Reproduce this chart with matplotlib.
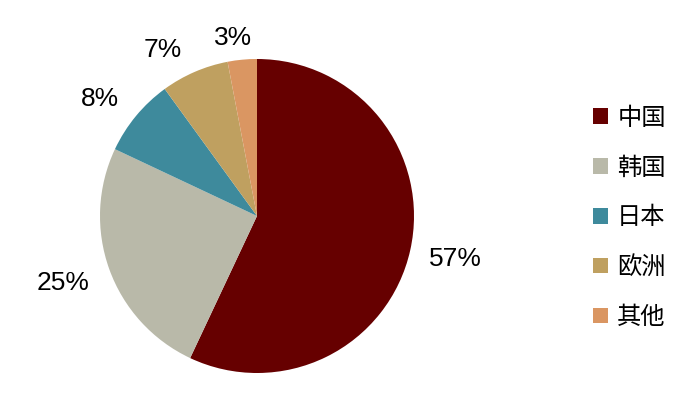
import numpy as np
import matplotlib.pyplot as plt
from matplotlib.patches import Patch

plt.rcParams['font.family'] = ['Liberation Sans', 'Noto Sans CJK SC', 'DejaVu Sans']

regions = ['中国', '韩国', '日本', '欧洲', '其他']
shares = [57, 25, 8, 7, 3]
colors = ['#660000', '#B9B9A9', '#3E8A9C', '#BFA060', '#DA9662']
# label placement (distance in radii, angle nudge in degrees)
label_dist = [1.29, 1.30, 1.255, 1.225, 1.157]
label_nudge = [0.9, -1.2, 2.4, 5.8, 2.2]

fig = plt.figure(figsize=(7, 4.04), dpi=100)
ax = fig.add_axes([100 / 700, 31 / 404, 314 / 700, 314 / 404])

wedges, _ = ax.pie(shares, colors=colors, startangle=90, counterclock=False,
                   radius=1, wedgeprops=dict(linewidth=0))
ax.set_xlim(-1, 1)
ax.set_ylim(-1, 1)
ax.set_aspect('equal')

for w, v, d, n in zip(wedges, shares, label_dist, label_nudge):
    ang = np.deg2rad((w.theta1 + w.theta2) / 2 + n)
    ax.annotate(f'{v}%', (d * np.cos(ang), d * np.sin(ang)), xytext=(0, -1.5),
                textcoords='offset points', ha='center', va='center',
                fontsize=19, color='black', annotation_clip=False)

handles = [Patch(facecolor=c, edgecolor='none') for c in colors]
fig.legend(handles, regions, loc='center left', bbox_to_anchor=(0.847, 0.462),
           frameon=False, labelspacing=0.98, handlelength=0.62,
           handleheight=0.62, handletextpad=0.38, borderpad=0, borderaxespad=0,
           prop={'family': ['Noto Sans CJK SC'], 'size': 17.5})

fig.savefig('out.png', dpi=100)
